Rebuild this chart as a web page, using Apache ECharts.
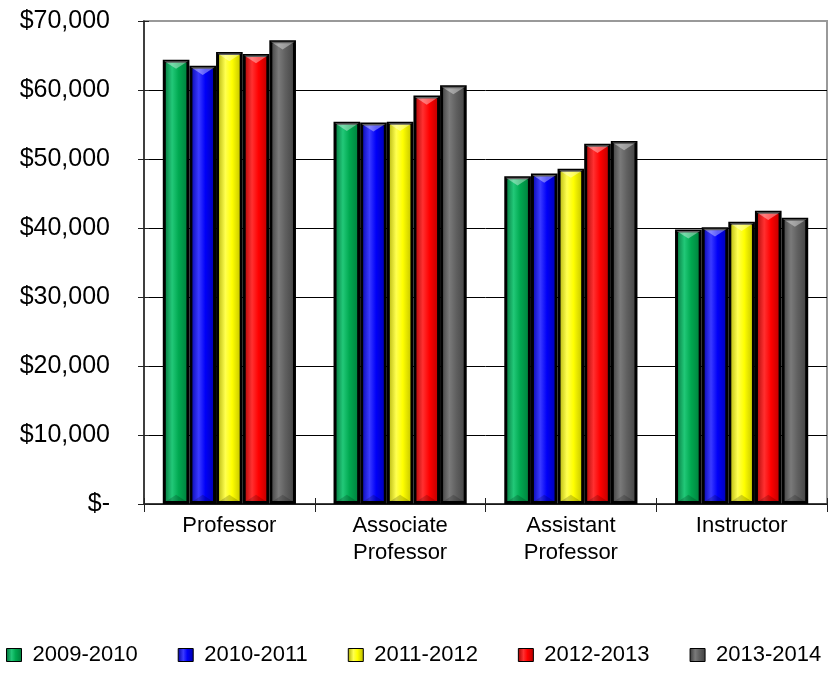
<!DOCTYPE html>
<html>
<head>
<meta charset="utf-8">
<script src="https://cdn.jsdelivr.net/npm/echarts@6/dist/echarts.min.js"></script>
<style>html,body{margin:0;padding:0;background:#fff}#c{width:829px;height:674px}</style>
</head>
<body>
<div id="c"></div>
<script>
const categories = ['Professor', 'Associate\nProfessor', 'Assistant\nProfessor', 'Instructor'];
const seriesNames = ['2009-2010', '2010-2011', '2011-2012', '2012-2013', '2013-2014'];
const s2009 = [64400, 55400, 47500, 39800];
const s2010 = [63500, 55300, 47900, 40100];
const s2011 = [65500, 55400, 48600, 40900];
const s2012 = [65200, 59200, 52200, 42500];
const s2013 = [67200, 60700, 52600, 41500];
const yTicks = [0, 10000, 20000, 30000, 40000, 50000, 60000, 70000];

const seriesData = [s2009, s2010, s2011, s2012, s2013];
const palettes = [
  ['#006a35', '#22c878', '#00a850', '#007a3a'],
  ['#0000a0', '#3a3aff', '#0000f8', '#0000a8'],
  ['#a8a800', '#ffff50', '#ffff00', '#b8b800'],
  ['#a00000', '#ff3030', '#ff0000', '#b00000'],
  ['#383838', '#7a7a7a', '#606060', '#404040']
];
const CAT_GAP = 0.22;
function grad(p) {
  return new echarts.graphic.LinearGradient(0, 0, 1, 0, [
    {offset: 0, color: p[0]}, {offset: 0.35, color: p[1]},
    {offset: 0.6, color: p[2]}, {offset: 1, color: p[3]}
  ]);
}
const FONT = "'Liberation Sans', Arial, sans-serif";

function bevelSeries(i) {
  return {
    name: seriesNames[i] + ' bevel', type: 'custom', z: 5, silent: true,
    data: seriesData[i].map(function (v, k) { return [k, v]; }),
    encode: {x: 0, y: 1},
    renderItem: function (params, api) {
      const cat = api.value(0), val = api.value(1);
      const top = api.coord([cat, val]);
      const base = api.coord([cat, 0]);
      const band = api.size([1, 0])[0];
      const group = band * (1 - CAT_GAP);
      const bw = group / seriesNames.length;
      const x0 = top[0] - group / 2 + i * bw + 1.5;
      const x1 = x0 + bw - 3;
      const yt = top[1] + 1.5, yb = base[1] - 1.5;
      const d = (x1 - x0) / 2 * 0.65;
      const mid = (x0 + x1) / 2;
      return {
        type: 'group',
        children: [{
          type: 'polygon',
          shape: {points: [[x0, yt], [x1, yt], [mid, yt + d]]},
          style: {fill: 'rgba(255,255,255,0.38)'}
        }, {
          type: 'polygon',
          shape: {points: [[x0, yb], [x1, yb], [mid, yb - d]]},
          style: {fill: 'rgba(0,0,0,0.18)'}
        }]
      };
    }
  };
}

const chart = echarts.init(document.getElementById('c'));
const barSeries = seriesNames.map(function (n, i) {
  return {
    name: n, type: 'bar', data: seriesData[i],
    barGap: '0%', barCategoryGap: (CAT_GAP * 100) + '%',
    itemStyle: {color: grad(palettes[i]), borderColor: '#000', borderWidth: 3}
  };
});
const bevels = seriesNames.map(function (n, i) { return bevelSeries(i); });

chart.setOption({
  animation: false,
  backgroundColor: '#fff',
  grid: {left: 144, right: 2, top: 21, bottom: 170, show: true, borderColor: '#999', borderWidth: 2, backgroundColor: 'transparent'},
  legend: {
    left: 1, bottom: 3, width: 829, itemWidth: 15, itemHeight: 13, itemGap: 40,
    icon: 'rect',
    itemStyle: {borderColor: '#000', borderWidth: 1},
    textStyle: {fontFamily: FONT, fontSize: 22, color: '#000', padding: [0, 0, 0, 6]},
    data: seriesNames
  },
  xAxis: [{
    type: 'category', data: categories,
    axisLine: {lineStyle: {color: '#222', width: 1.5}},
    axisTick: {show: true, length: 8, lineStyle: {color: '#222'}},
    axisLabel: {fontFamily: FONT, fontSize: 22, color: '#000', lineHeight: 27, margin: 8}
  }, {
    type: 'category', data: categories, position: 'bottom',
    axisLine: {show: false}, axisLabel: {show: false},
    axisTick: {show: true, inside: true, length: 6, lineStyle: {color: '#222'}}
  }],
  yAxis: [{
    type: 'value', min: 0, max: 70000, interval: 10000,
    axisLine: {show: true, lineStyle: {color: '#222', width: 1.5}},
    axisTick: {show: true, length: 6, lineStyle: {color: '#222'}},
    splitLine: {show: true, showMaxLine: false, lineStyle: {color: '#000', width: 1}},
    axisLabel: {
      fontFamily: FONT, fontSize: 25, color: '#000', margin: 34,
      formatter: function (v) { return v === yTicks[0] ? '$-' : '$' + v.toLocaleString('en-US'); }
    }
  }, {
    type: 'value', min: 0, max: 70000, interval: 10000, position: 'left',
    axisLine: {show: false}, axisLabel: {show: false}, splitLine: {show: false},
    axisTick: {show: true, inside: true, length: 5, lineStyle: {color: '#222'}}
  }],
  series: barSeries.concat(bevels)
});
</script>
</body>
</html>
